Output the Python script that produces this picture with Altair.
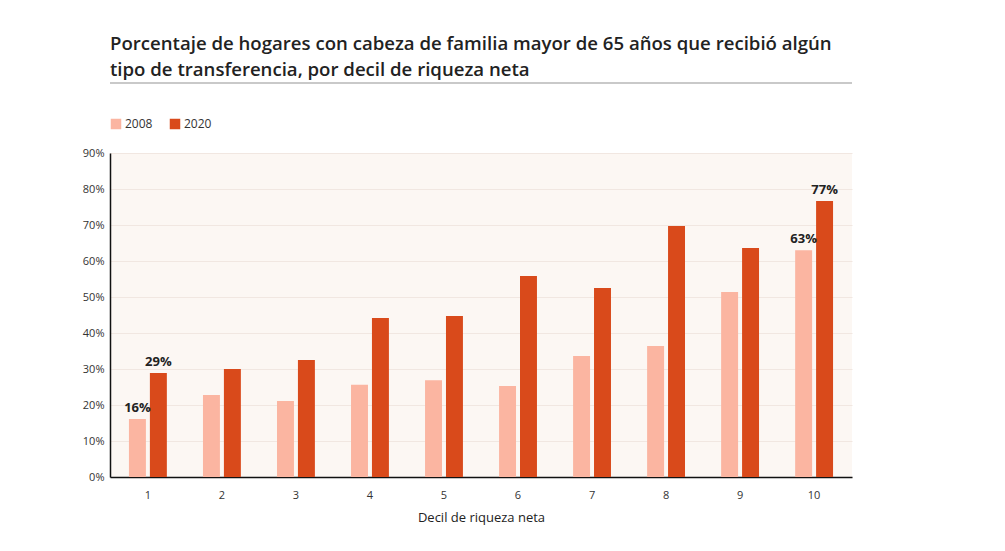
import altair as alt
import pandas as pd

deciles = [1, 2, 3, 4, 5, 6, 7, 8, 9, 10]
v2008 = [16.1, 22.8, 21.1, 25.6, 26.9, 25.3, 33.6, 36.4, 51.4, 63.0]
v2020 = [28.9, 30.0, 32.5, 44.2, 44.7, 55.8, 52.5, 69.7, 63.6, 76.7]
years = ["2008", "2020"]
colors = ["#FBB5A1", "#D94A1B"]
labelled_deciles = [1, 10]
y_ticks = [0, 10, 20, 30, 40, 50, 60, 70, 80, 90]
title_lines = [
    "Porcentaje de hogares con cabeza de familia mayor de 65 años que recibió algún",
    "tipo de transferencia, por decil de riqueza neta",
]
x_title = "Decil de riqueza neta"

rows = []
for d, a, b in zip(deciles, v2008, v2020):
    rows.append({"decil": d, "anio": years[0], "valor": a})
    rows.append({"decil": d, "anio": years[1], "valor": b})
df = pd.DataFrame(rows)

FONT = "Open Sans"

x_enc = alt.X(
    "decil:O",
    title=x_title,
    scale=alt.Scale(paddingInner=0.488, paddingOuter=0.256),
    axis=alt.Axis(
        labelAngle=0, ticks=False, labelPadding=12, labelFontSize=11,
        labelColor="#333", labelFont=FONT, titleFont=FONT, titleFontSize=13,
        titleFontWeight="normal", titleColor="#222", titlePadding=11,
        domainColor="#111", domainWidth=1.5, grid=False,
    ),
)
xoff = alt.XOffset("anio:N", scale=alt.Scale(paddingInner=0.19, paddingOuter=0))
y_enc = alt.Y(
    "valor:Q",
    title=None,
    scale=alt.Scale(domain=[0, 90], nice=False),
    axis=alt.Axis(
        values=y_ticks, tickCount=10, labelOverlap=False,
        labelExpr="datum.value + '%'",
        ticks=False, labelPadding=6, labelFontSize=11, labelColor="#333",
        labelFont=FONT, domainColor="#111", domainWidth=1.5,
        gridColor="#F1E7E1", gridWidth=1,
    ),
)

bars = alt.Chart(df).mark_bar().encode(
    x=x_enc,
    xOffset=xoff,
    y=y_enc,
    color=alt.Color(
        "anio:N",
        scale=alt.Scale(domain=years, range=colors),
        legend=alt.Legend(
            title=None, orient="none", legendX=0, legendY=-35,
            direction="horizontal", symbolType="square", symbolSize=110,
            symbolStrokeWidth=0, labelFontSize=12, labelFont=FONT,
            labelColor="#333", columnPadding=16, labelOffset=3,
        ),
    ),
)

labels = (
    alt.Chart(df)
    .transform_filter(alt.FieldOneOfPredicate(field="decil", oneOf=labelled_deciles))
    .transform_calculate(txt="format(datum.valor, '.0f') + '%'")
    .mark_text(baseline="bottom", dy=-4, fontSize=13, fontWeight="bold", font=FONT, color="#222")
    .encode(x=x_enc, xOffset=xoff, y=y_enc, text="txt:N")
)

rule = alt.Chart(pd.DataFrame({"a": [0]})).mark_rule(color="#C9C9C9", strokeWidth=2).encode(
    x=alt.value(0), x2=alt.value(742), y=alt.value(-70)
)

chart = (
    alt.layer(bars, labels, rule)
    .properties(
        width=742,
        height=324,
        autosize=alt.AutoSizeParams(type="none"),
        padding={"left": 102, "top": 145, "right": 100, "bottom": 60},
        title=alt.TitleParams(
            text=title_lines, anchor="start", frame="group", font=FONT,
            fontSize=18.6, fontWeight=600, color="#222", lineHeight=26,
            offset=2,
        ),
        background="white",
    )
    .configure_view(fill="#FCF7F3", stroke=None)
)

chart.save("out.html", embed_options={"renderer": "svg", "actions": False})
